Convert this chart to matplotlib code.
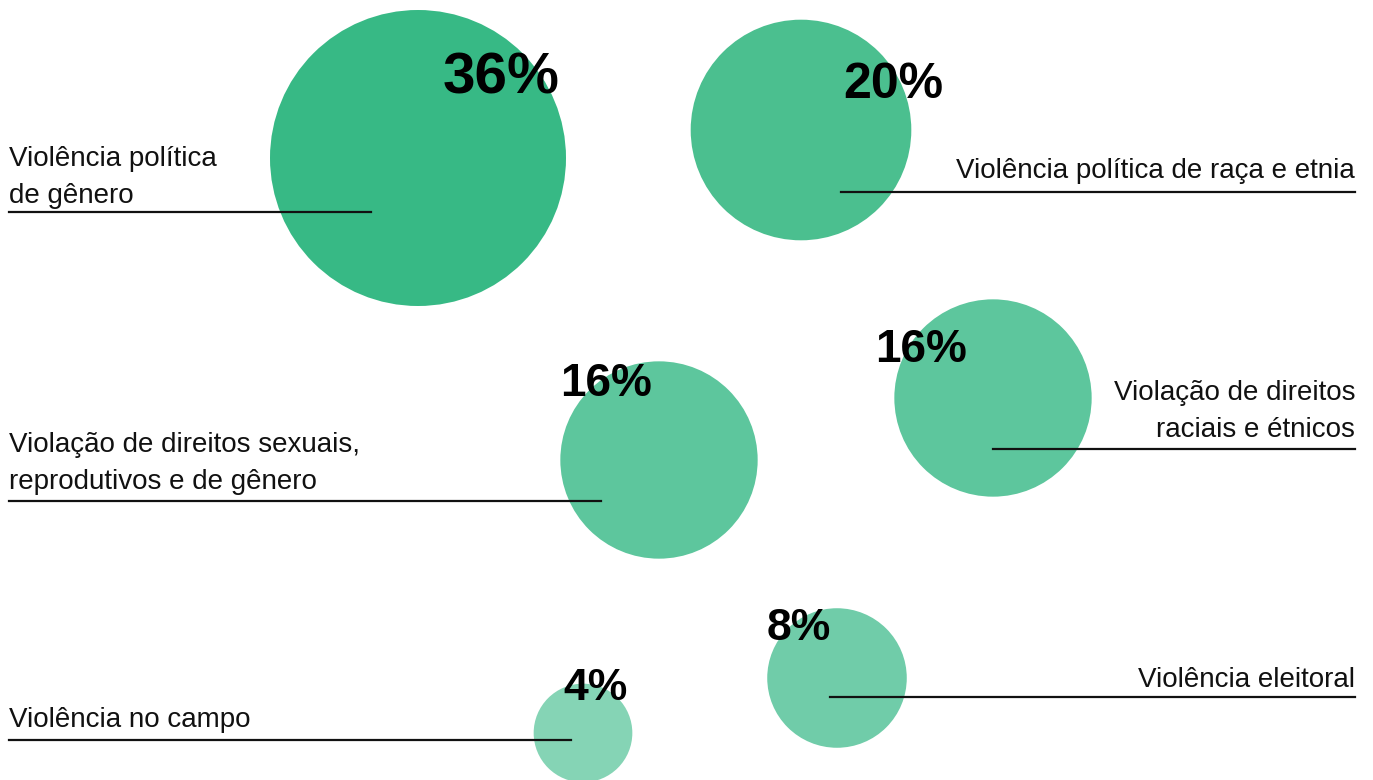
import numpy as np
import matplotlib.pyplot as plt
from matplotlib.patches import Circle

plt.rcParams['font.family'] = ['Liberation Sans', 'DejaVu Sans']

# share of cases by category
categorias = [
    "Violência política\nde gênero",
    "Violência política de raça e etnia",
    "Violação de direitos sexuais,\nreprodutivos e de gênero",
    "Violação de direitos\nraciais e étnicos",
    "Violência no campo",
    "Violência eleitoral",
]
valores = [36, 20, 16, 16, 4, 8]

# layout (pixels): circle centre, percent text anchor, label side, label baseline, underline
centros = [(418, 158), (801, 130), (659, 460), (993, 398), (583, 733), (837, 678)]
pct_pos = [(443, 94), (843, 98), (560, 396), (875, 362), (563, 700), (767, 640)]
pct_size = [42, 36, 33, 33, 32, 32]
lado = ['left', 'right', 'left', 'right', 'left', 'right']
base_label = [166, 178, 452, 400, 727, 687]
linha_y = [212, 192, 501, 449, 740, 697]
linha_x = [(9, 371), (841, 1355), (9, 601), (993, 1355), (9, 571), (830, 1355)]
cores = ['#37b985', '#4bbf8f', '#5dc69d', '#5dc69d', '#85d4b5', '#70cca9']

R_MAX = 148  # radius of the largest bubble, area proportional to value

fig = plt.figure(figsize=(13.73, 7.80), dpi=100)
ax = fig.add_axes([0, 0, 1, 1])
ax.set_xlim(0, 1373)
ax.set_ylim(780, 0)
ax.set_aspect('equal')
ax.axis('off')

for i, v in enumerate(valores):
    r = R_MAX * np.sqrt(v / max(valores))
    ax.add_patch(Circle(centros[i], r, color=cores[i], lw=0, zorder=1))

    ax.plot(linha_x[i], [linha_y[i], linha_y[i]], color='#111111', lw=1.6, zorder=3)

    linhas = categorias[i].split('\n')
    x = 9 if lado[i] == 'left' else 1355
    for j, txt in enumerate(linhas):
        y = base_label[i] + j * 37
        ax.text(x, y, txt, ha=lado[i], va='baseline', fontsize=20,
                color='#111111', zorder=4)

    ax.text(pct_pos[i][0], pct_pos[i][1], f"{v}%", ha='left', va='baseline',
            fontsize=pct_size[i], fontweight='bold', color='black', zorder=5)

fig.savefig('out.png', dpi=100)
